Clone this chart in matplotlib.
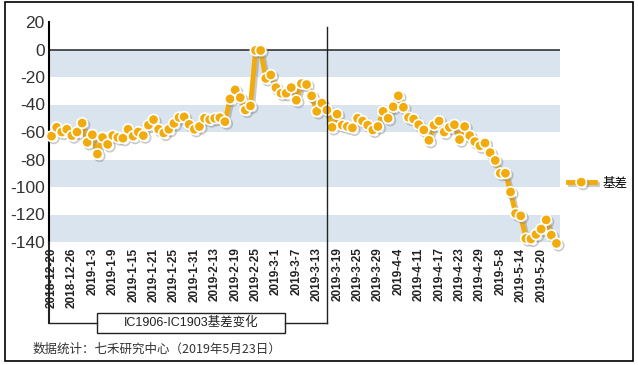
import matplotlib
matplotlib.use('Agg')
import matplotlib.pyplot as plt
import matplotlib.patheffects as pe
from matplotlib.lines import Line2D
from matplotlib.patches import Rectangle
from matplotlib.transforms import blended_transform_factory

plt.rcParams['font.family'] = ['Liberation Sans', 'Noto Sans CJK SC', 'DejaVu Sans']

# IC1906-IC1903 basis, one value per trading day (2018-12-20 .. 2019-5-23)
basis = [
    -63, -56.6, -60, -58, -62.6, -60, -53.5, -67.5, -62, -76,
    -64, -69, -62.6, -64, -64.5, -58, -63, -60, -62.6, -55,
    -51, -58, -60.7, -58, -53.7, -49.4, -49, -54.5, -58, -56,
    -50, -51, -50, -49.6, -52.5, -36, -29.4, -35, -44, -41,
    -0.7, -0.7, -21, -18.5, -27.7, -31.8, -31.8, -27.7, -36.9, -24.8,
    -25.5, -33.7, -45, -39, -44, -56.6, -47, -55, -56, -57,
    -50, -52, -55, -58.5, -56, -45, -50, -41.7, -33.7, -42,
    -49.4, -50.6, -54.7, -58.5, -66, -55, -52, -60, -56.6, -54.7,
    -65.5, -56, -62.6, -67, -70, -68, -75, -80.7, -90, -90,
    -103.6, -119.3, -121, -137.4, -137.8, -134.5, -130.6, -123.9, -135, -141,
]
tick_labels = [
    '2018-12-20', '2018-12-26', '2019-1-3', '2019-1-9', '2019-1-15', '2019-1-21',
    '2019-1-25', '2019-1-31', '2019-2-13', '2019-2-19', '2019-2-25', '2019-3-1',
    '2019-3-7', '2019-3-13', '2019-3-19', '2019-3-25', '2019-3-29', '2019-4-4',
    '2019-4-11', '2019-4-17', '2019-4-23', '2019-4-29', '2019-5-8', '2019-5-14',
    '2019-5-20',
]
tick_step = 4
split_index = 54  # 2019-3-15, IC1903 expiry
y_ticks = [20, 0, -20, -40, -60, -80, -100, -120, -140]

W, H = 638, 365
fig = plt.figure(figsize=(W / 100, H / 100), dpi=100)
ax = fig.add_axes([49 / W, (H - 242) / H, (560 - 49) / W, 220 / H])

# alternating background bands
for lo in range(-140, 0, 40):
    ax.axhspan(lo, lo + 20, color='#d9e4ef', lw=0, zorder=0)
ax.axhline(0, color='#333333', lw=1.2, zorder=1)

x = list(range(len(basis)))
ax.plot(x, basis, color='#f2ab0c', lw=3.5, marker='o', markersize=7.5,
        markerfacecolor='#f2ab0c', markeredgecolor='white', markeredgewidth=1.2,
        clip_on=False, zorder=3, label='基差',
        path_effects=[pe.SimpleLineShadow(offset=(1.5, -1.5), shadow_color='#888888', alpha=0.45),
                      pe.Normal()])

ax.set_xlim(-0.5, 99.7)
ax.set_ylim(-140, 20)
ax.set_yticks(y_ticks)
ax.set_yticklabels([str(v) for v in y_ticks], fontsize=12.5, color='#333333')
ax.set_xticks(range(0, len(tick_labels) * tick_step, tick_step))
ax.set_xticklabels(tick_labels, rotation=90, fontsize=8.5, fontweight='bold',
                   color='#222222', ha='center', va='top')
ax.tick_params(length=0, pad=3)
ax.tick_params(axis='x', pad=4)
for s in ['top', 'right', 'bottom']:
    ax.spines[s].set_visible(False)
ax.spines['left'].set_linewidth(1.5)

# bracket around the first-period labels
bt = blended_transform_factory(ax.transData, fig.transFigure)
y_top = (H - 27) / H
y_bot = (H - 323) / H
fig.add_artist(Line2D([49 / W, 49 / W], [(H - 242) / H, y_bot], color='#222222', lw=1.5))
fig.add_artist(Line2D([split_index, split_index], [y_top, y_bot], transform=bt, color='#222222', lw=1))
fig.add_artist(Line2D([49 / W, 97 / W], [y_bot, y_bot], color='#222222', lw=1))
fig.add_artist(Line2D([285 / W, 327 / W], [y_bot, y_bot], color='#222222', lw=1))
fig.add_artist(Rectangle((97 / W, (H - 333) / H), 188 / W, 20 / H, transform=fig.transFigure,
                         fill=False, edgecolor='#222222', lw=1))
fig.text(191 / W, (H - 322) / H, 'IC1906-IC1903基差变化', fontsize=9, ha='center', va='center',
         color='#222222')

fig.text(33 / W, (H - 349) / H, '数据统计：七禾研究中心（2019年5月23日）', fontsize=9,
         ha='left', va='center', color='#333333',
         family=['Noto Sans CJK SC', 'Liberation Sans'])

# legend
ax.legend(loc='center left', bbox_to_anchor=(1.0, (183 - 22) / 220 * -1 + 1), frameon=False,
          fontsize=9, handlelength=2.2, borderaxespad=0.2, handletextpad=0.6,
          prop={'family': ['Noto Sans CJK SC'], 'size': 9})

# outer frame
fig.add_artist(Rectangle((5 / W, 4 / H), 628 / W, 359 / H, transform=fig.transFigure,
                         fill=False, edgecolor='black', lw=1.2))

fig.savefig('out.png', dpi=100)
